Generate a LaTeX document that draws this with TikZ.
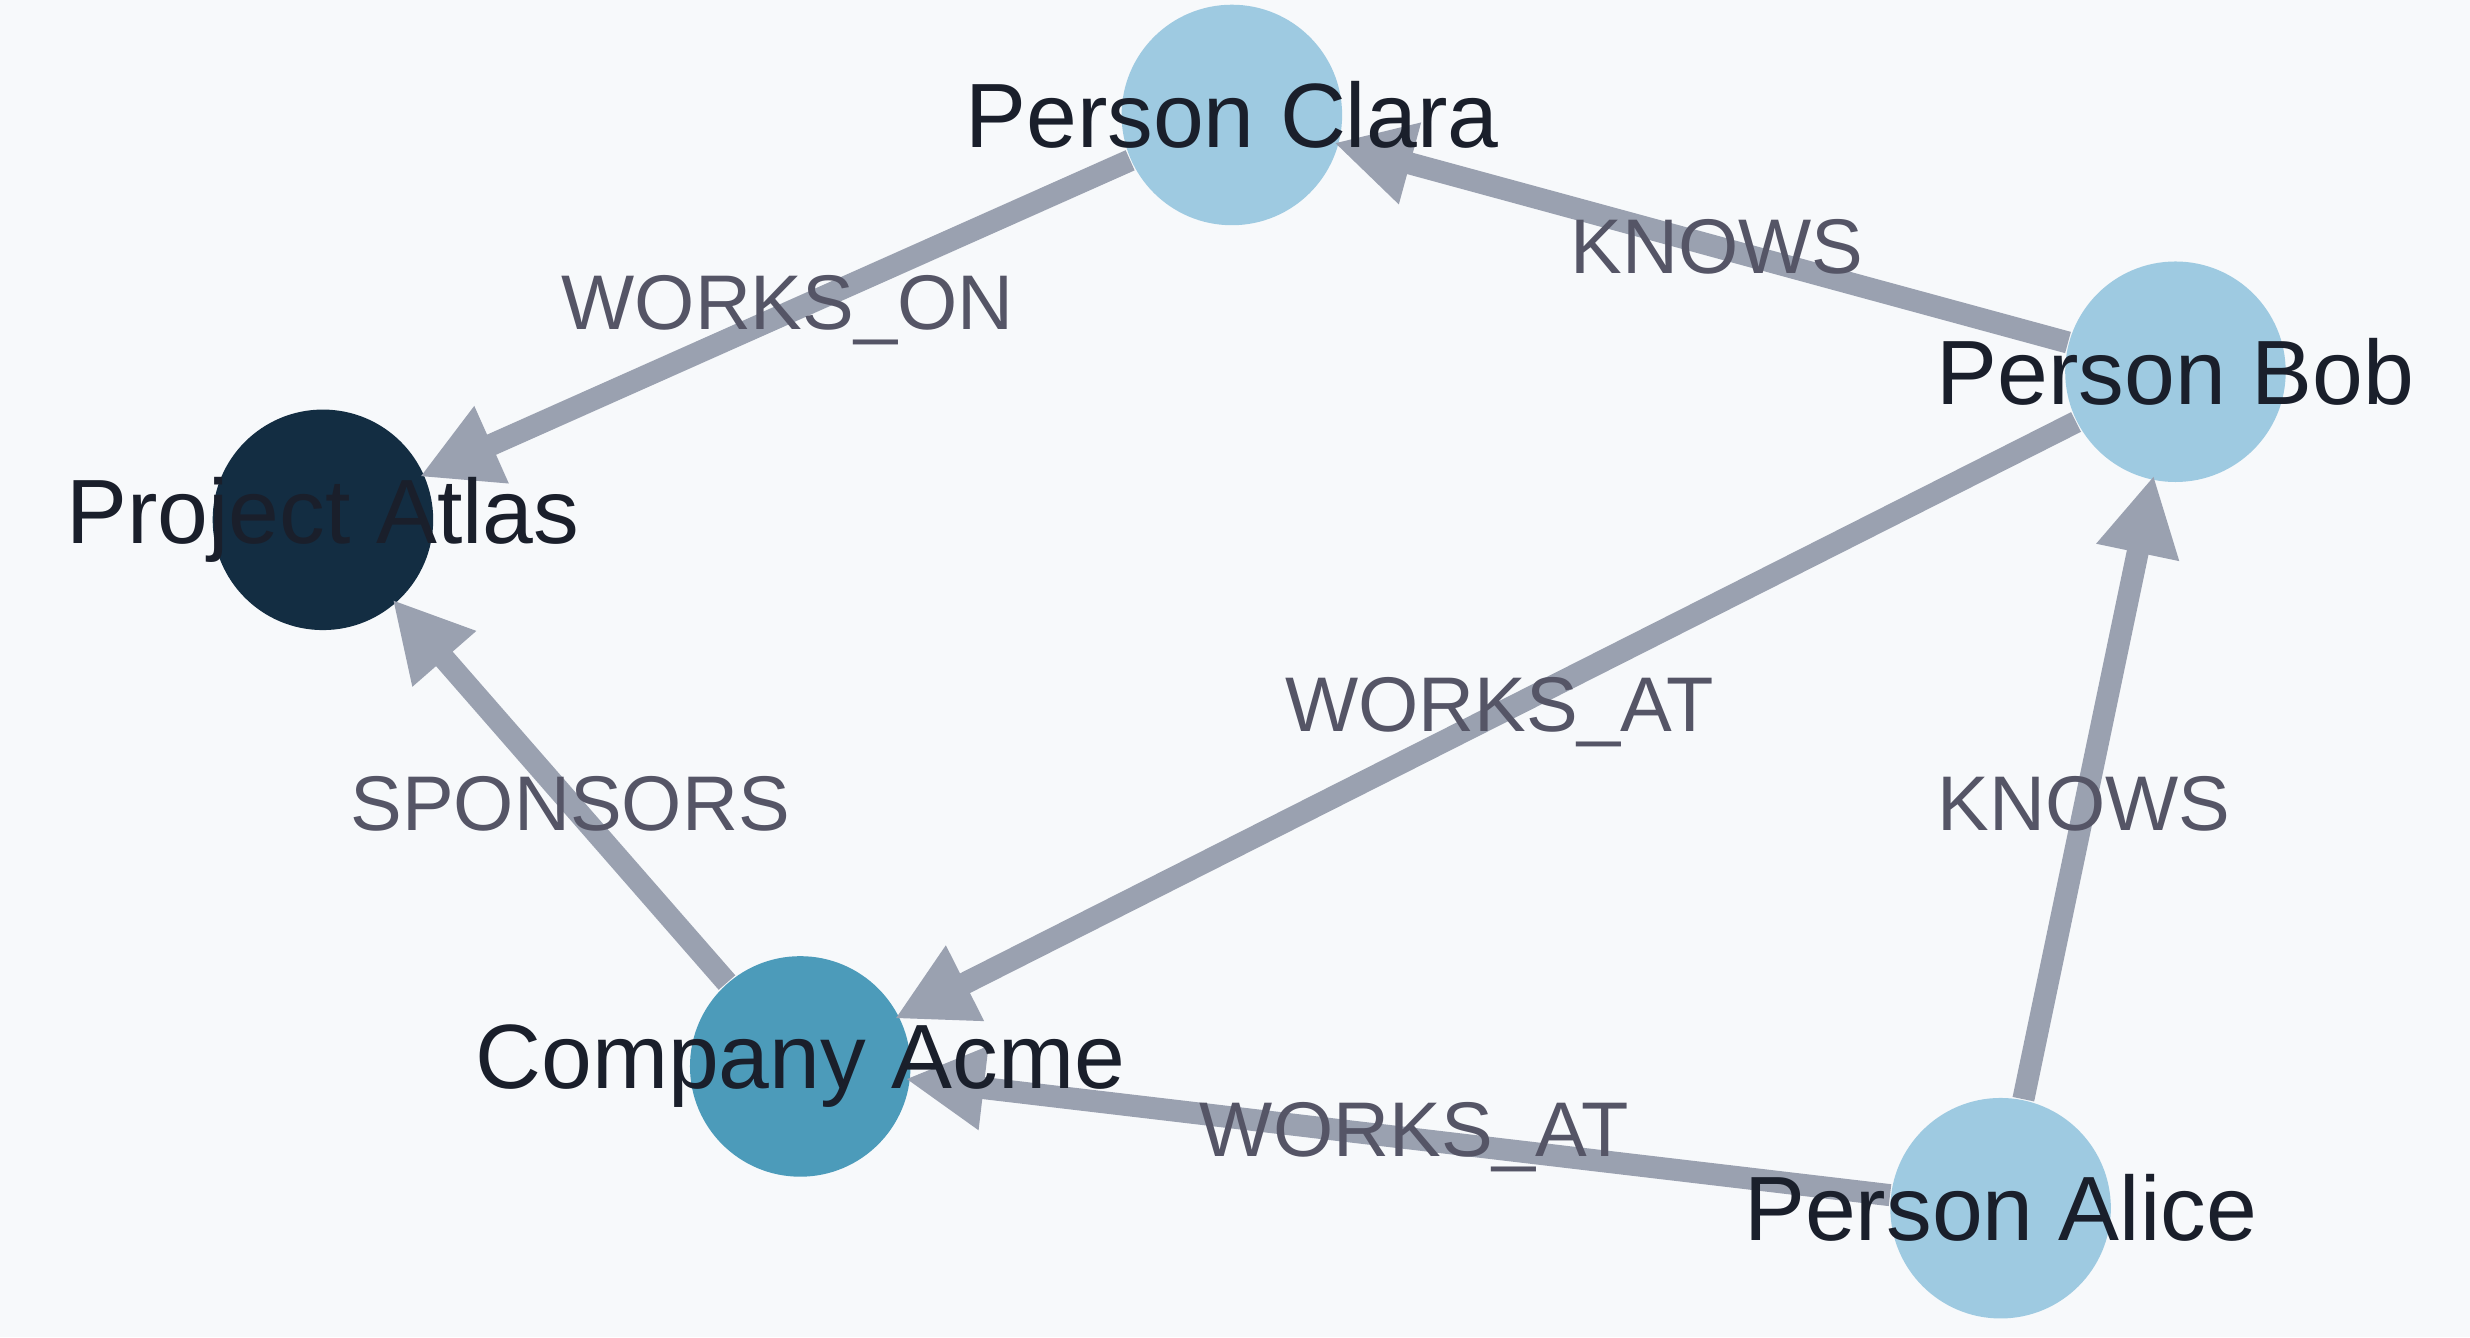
\documentclass[tikz,border=0pt]{standalone}
\usepackage{fontspec}
\setmainfont{Liberation Sans}
\usetikzlibrary{arrows.meta}
\definecolor{bgcol}{HTML}{F7F9FB}
\definecolor{personcol}{HTML}{9ECAE1}
\definecolor{projcol}{HTML}{132D42}
\definecolor{compcol}{HTML}{4C9BBA}
\definecolor{edgecol}{HTML}{9AA1B0}
\definecolor{elabcol}{HTML}{555566}
\definecolor{ntextcol}{HTML}{1A1F2B}
\tikzset{
  entity/.style={circle,minimum size=1.4cm,inner sep=0pt},
  rel/.style={draw=edgecol,line width=0.14cm,-{Triangle[length=0.5cm,width=0.5cm]},shorten >=-1pt},
  rellabel/.style={text=elabcol,font=\fontsize{14}{16}\selectfont},
  entlabel/.style={text=ntextcol,font=\fontsize{16.5}{18}\selectfont}
}
\begin{document}
\begin{tikzpicture}
  \fill[bgcol] (0,0) rectangle (15.68,8.49);
  \useasboundingbox (0,0) rectangle (15.68,8.49);
  % entities
  \node[entity,fill=personcol] (clara) at (7.82,7.76) {};
  \node[entity,fill=personcol] (bob) at (13.81,6.13) {};
  \node[entity,fill=projcol] (atlas) at (2.05,5.19) {};
  \node[entity,fill=compcol] (acme) at (5.08,1.72) {};
  \node[entity,fill=personcol] (alice) at (12.70,0.82) {};
  % relations
  \draw[rel] (clara) -- (atlas);
  \draw[rel] (bob) -- (clara);
  \draw[rel] (bob) -- (acme);
  \draw[rel] (alice) -- (bob);
  \draw[rel] (alice) -- (acme);
  \draw[rel] (acme) -- (atlas);
  % relation labels
  \node[rellabel] (lworkson) at (5.00,6.52) {WORKS\_ON};
  \node[rellabel] (lknowsa) at (10.90,6.92) {KNOWS};
  \node[rellabel] (lworksata) at (9.52,3.97) {WORKS\_AT};
  \node[rellabel] (lsponsors) at (3.62,3.39) {SPONSORS};
  \node[rellabel] (lknowsb) at (13.23,3.39) {KNOWS};
  \node[rellabel] (lworksatb) at (8.98,1.27) {WORKS\_AT};
  % entity labels
  \node[entlabel] at (clara) {Person Clara};
  \node[entlabel] at (bob) {Person Bob};
  \node[entlabel] at (atlas) {Project Atlas};
  \node[entlabel] at (acme) {Company Acme};
  \node[entlabel] at (alice) {Person Alice};
\end{tikzpicture}
\end{document}
